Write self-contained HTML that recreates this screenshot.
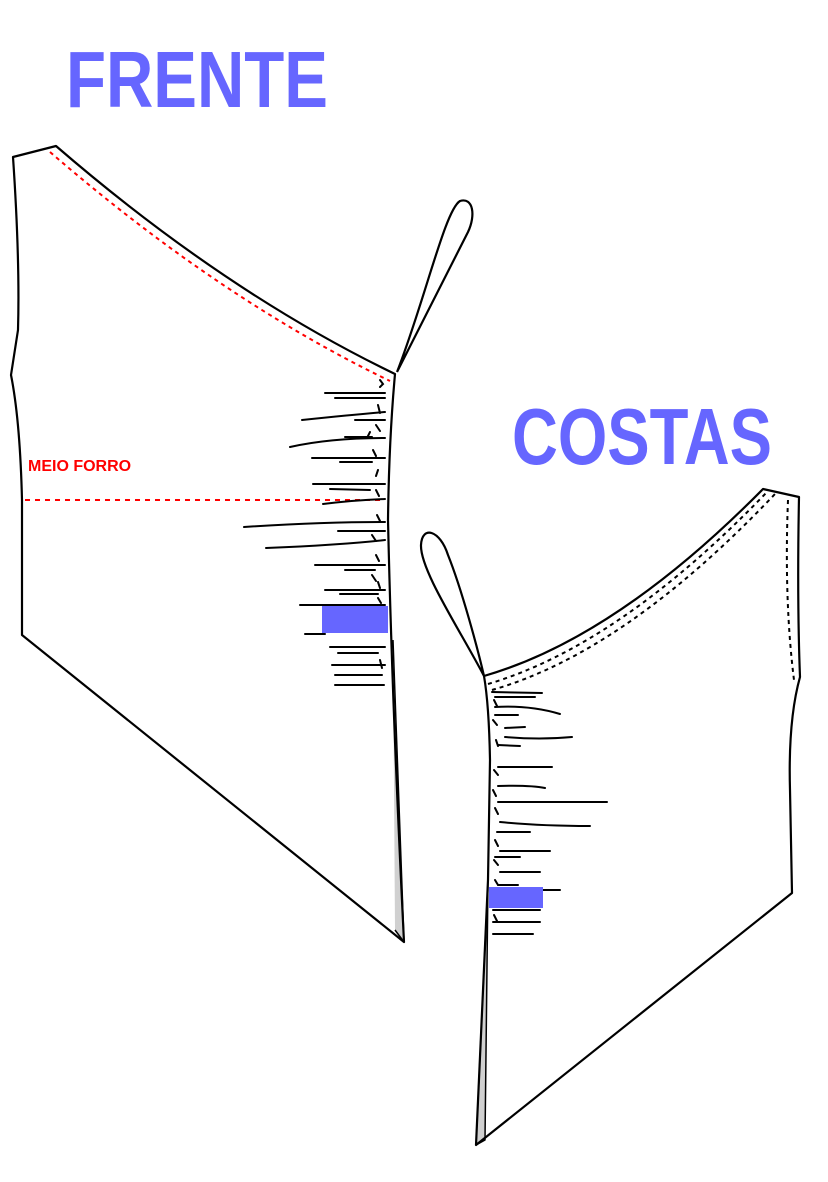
<!DOCTYPE html>
<html><head><meta charset="utf-8"><style>
html,body{margin:0;padding:0;background:#fff;}
svg{display:block;}
</style></head><body>
<svg width="828" height="1182" viewBox="0 0 828 1182" xmlns="http://www.w3.org/2000/svg">
<g font-family="'Liberation Sans', sans-serif" font-weight="bold" fill="#6666ff">
<text x="66" y="107" font-size="80" textLength="262" lengthAdjust="spacingAndGlyphs">FRENTE</text>
<text x="512" y="464" font-size="80" textLength="260" lengthAdjust="spacingAndGlyphs">COSTAS</text>
</g>
<!-- FRONT -->
<g fill="none" stroke="#000" stroke-width="2.2" stroke-linejoin="round">
<path d="M395,930 L404,942 L393,640" fill="#d0d0d0" stroke-width="1.5"/>
<path d="M56,146 L13,157 Q20,260 18,330 L11,375 Q20,420 22,500 L22,635 L404,942 Q392,700 388,520 Q389,440 395,374 Q225,292 56,146 Z"/>
<path d="M397,372 C425,300 445,210 460,201 C473,197 476,215 468,232 L397,372"/>
</g>
<path d="M50,152 Q220,299 390,381" fill="none" stroke="#ff0000" stroke-width="2" stroke-dasharray="4,4"/>
<line x1="25" y1="500" x2="385" y2="500" stroke="#ff0000" stroke-width="2" stroke-dasharray="5,5"/>
<text x="28" y="471" font-family="'Liberation Sans', sans-serif" font-weight="bold" font-size="16" fill="#ff0000">MEIO FORRO</text>
<g fill="none" stroke="#000" stroke-width="2" stroke-linecap="round">
<path d="M325,393 L385,393 M335,398 L385,398 M302,420 Q350,415 385,412 M355,420 L385,420 M290,447 Q330,438 385,438 M345,437 L372,437 M312,458 L385,458 M340,462 L372,462 M313,484 L385,484 M330,489 L370,490 M323,504 Q355,500 385,499 M244,527 Q320,522 385,522 M338,531 L385,531 M266,548 Q340,545 385,540 M315,565 L385,565 M345,570 L375,570 M325,590 L385,590 M340,594 L378,594 M300,605 L385,605 M305,634 L325,634 M330,647 L385,647 M338,653 L378,653 M332,665 L385,665 M335,675 L382,675 M335,685 L384,685"/>
<path d="M380,380 l3,4 -3,3 M378,405 l2,8 M376,425 l4,6 M370,432 l-3,6 M373,450 l3,6 M378,470 l-2,6 M376,490 l3,6 M377,515 l3,6 M372,535 l4,6 M376,555 l3,6 M372,575 l4,6 M378,582 l2,6 M378,598 l3,5 M380,660 l2,8"/>
</g>
<rect x="322" y="606" width="66" height="27" fill="#6666ff"/>
<!-- BACK -->
<g fill="none" stroke="#000" stroke-width="2.2" stroke-linejoin="round">
<path d="M488,880 L476,1145 L485,1140 Z" fill="#d0d0d0" stroke-width="1.5"/>
<path d="M484,676 Q616,638 763,489 L799,497 Q797,600 800,677 Q788,720 790,790 L792,893 L476,1145 L488,880 L490,760 Q489,705 484,676 Z"/>
<path d="M484,676 C460,630 420,570 421,545 C422,525 440,530 448,555 C462,590 478,650 484,676"/>
</g>
<g fill="none" stroke="#000" stroke-width="2" stroke-dasharray="4,4">
<path d="M488,684 Q620,645 768,491"/>
<path d="M492,690 Q625,652 775,494"/>
<path d="M788,500 Q784,600 794,680"/>
</g>
<g fill="none" stroke="#000" stroke-width="2" stroke-linecap="round">
<path d="M492,692 L542,693 M495,697 L535,697 M495,707 Q530,705 560,714 M495,715 L518,715 M505,728 L525,727 M505,737 Q540,740 572,737 M498,745 L520,746 M498,767 L552,767 M498,786 Q530,785 545,788 M498,802 L607,802 M500,822 Q540,826 590,826 M497,832 L530,832 M500,851 L550,851 M495,857 L520,857 M500,872 L540,872 M498,885 L518,885 M543,890 L560,890 M493,910 L540,910 M493,922 L540,922 M493,934 L533,934"/>
<path d="M494,700 l3,6 M493,720 l4,5 M496,740 l2,6 M494,770 l4,5 M493,790 l3,6 M495,808 l3,6 M495,840 l3,6 M494,860 l4,5 M495,880 l3,5 M494,915 l3,6"/>
</g>
<rect x="489" y="887" width="54" height="21" fill="#6666ff"/>
</svg>
</body></html>
